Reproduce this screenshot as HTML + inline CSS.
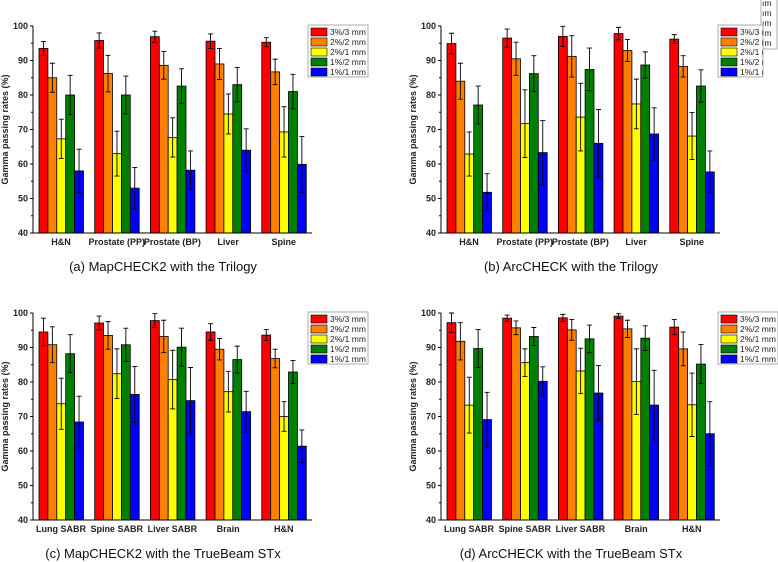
<!DOCTYPE html>
<html><head><meta charset="utf-8"><style>
html,body{margin:0;padding:0;background:#fff;}
svg{display:block;font-family:"Liberation Sans",Arial,sans-serif;}
</style></head><body>
<svg id="fig" width="778" height="562" viewBox="0 0 778 562" xmlns="http://www.w3.org/2000/svg"></svg>
<script>
const seriesNames = ["3%/3 mm","2%/2 mm","2%/1 mm","1%/2 mm","1%/1 mm"];
const seriesColors = ["#ff0000","#ff8000","#ffff00","#008000","#0000ff"];
const yTicks = [40,50,60,70,80,90,100];
const catsTrilogy = ["H&N","Prostate (PP)","Prostate (BP)","Liver","Spine"];
const catsTrueBeam = ["Lung SABR","Spine SABR","Liver SABR","Brain","H&N"];
// panel a
const aMeans = [[93.5,85,67.3,80,58],[95.8,86.2,63,80,53],[96.9,88.6,67.7,82.6,58.2],[95.6,89,74.5,83,64],[95.3,86.7,69.3,81,59.9]];
const aErrs = [[2,4.2,5.7,5.7,6.3],[2.2,5.3,6.5,5.5,6],[1.6,4,5.7,5,5.6],[2.1,4.5,5.8,5,6.2],[1.3,3.7,7.3,5,8.1]];
// panel b
const bMeans = [[94.9,84,62.9,77.1,51.8],[96.5,90.5,71.7,86.2,63.3],[97,91.2,73.6,87.4,66],[97.8,92.9,77.4,88.7,68.7],[96.2,88.3,68.1,82.6,57.7]];
const bErrs = [[3,5.2,6.4,5.5,5.4],[2.6,4.8,9.8,5.2,9.3],[2.9,6,9.8,6.2,9.8],[1.8,3.2,7.2,3.8,7.6],[1.3,3.1,6.8,4.7,6.1]];
// panel c
const cMeans = [[94.5,90.8,73.7,88.2,68.4],[97.1,93.5,82.4,90.8,76.4],[97.8,93.2,80.7,90.1,74.6],[94.5,89.5,77.2,86.5,71.4],[93.6,86.8,70,82.9,61.4]];
const cErrs = [[4,5.2,7.4,5.5,7.5],[2,4,7.2,4.8,8.1],[2,4.7,8.5,5.5,9.6],[2.4,3.1,5.9,3.9,5.9],[1.6,2.7,4.3,3.3,4.7]];
// panel d
const dMeans = [[97.2,91.8,73.3,89.7,69.1],[98.5,95.7,85.6,93.2,80.2],[98.6,95.1,83.2,92.5,76.8],[99.1,95.4,80.1,92.7,73.3],[95.9,89.6,73.4,85.2,65]];
const dErrs = [[2.8,5.4,8.1,5.5,7.9],[0.9,2,4,2.6,4.2],[1,3,6.6,4,8],[0.7,2.5,9.5,3.6,10.1],[2.2,4.9,9.2,5.7,9.3]];

const NS="http://www.w3.org/2000/svg";
const svg=document.getElementById('fig');
function mk(tag,attrs,parent){const e=document.createElementNS(NS,tag);for(const k in attrs)e.setAttribute(k,attrs[k]);(parent||svg).appendChild(e);return e;}

function panel(id,ox,oy,cats,means,errs,caption,lx,ly,legendW,legendH){
  const g=mk('g',{});
  
  
  const L=ox+33,R=ox+312,T=oy+26,B=oy+233;
  const yv=v=>B-(v-40)/60*(B-T);
  const gx=i=>L+6+i*55.7;
  const bw=8.9;
  for(let i=0;i<cats.length;i++){
    for(let s=0;s<5;s++){
      const x=gx(i)+s*bw,v=means[i][s],e=errs[i][s];
      const r=mk('rect',{x:x,y:yv(v),width:bw,height:B-yv(v),fill:seriesColors[s],stroke:'#000','stroke-width':0.8},g);
      
      
      const cx=x+bw/2;
      const eb=mk('path',{d:`M${cx},${yv(v+e)}V${yv(v-e)}M${cx-2.5},${yv(v+e)}H${cx+2.5}M${cx-2.5},${yv(v-e)}H${cx+2.5}`,stroke:'#000','stroke-width':0.9,fill:'none'},g);
      
      
    }
    const t=mk('text',{x:gx(i)+22,y:B+12,'text-anchor':'middle','font-size':9,'font-weight':'bold',fill:'#222'},g);
    t.textContent=cats[i];
    
    
  }
  const ax=mk('path',{d:`M${L},${T}V${B}H${R}`,stroke:'#000','stroke-width':1,fill:'none'},g);
  
  
  yTicks.forEach(v=>{
    mk('line',{x1:L-3,x2:L,y1:yv(v),y2:yv(v),stroke:'#000'},g);
    if(v<100)mk('line',{x1:L-2,x2:L,y1:yv(v+5),y2:yv(v+5),stroke:'#000'},g);
    const t=mk('text',{x:L-5,y:yv(v)+3,'text-anchor':'end','font-size':9,'font-weight':'bold',fill:'#222'},g);
    t.textContent=v;
    
    
  });
  const yt=mk('text',{transform:`translate(${ox+8},${(T+B)/2}) rotate(-90)`,'text-anchor':'middle','font-size':9,'font-weight':'bold',fill:'#222'},g);
  yt.textContent='Gamma passing rates (%)';
  
  
  const cp=mk('text',{x:ox+163,y:oy+271,'text-anchor':'middle','font-size':13,fill:'#111'},g);
  cp.textContent=caption;
  
  
  const lg=mk('g',{},g);
  
  
  const cid='clip'+id;
  const cpth=mk('clipPath',{id:cid},lg);
  mk('rect',{x:lx,y:ly,width:legendW,height:legendH},cpth);
  mk('rect',{x:lx,y:ly,width:legendW,height:legendH,fill:'#fff',stroke:'#999','stroke-width':0.8},lg);
  const inner=mk('g',{'clip-path':`url(#${cid})`},lg);
  seriesNames.forEach((n,s)=>{
    mk('rect',{x:lx+3,y:ly+3+s*10,width:16,height:8,fill:seriesColors[s],stroke:'#000','stroke-width':0.6},inner);
    const t=mk('text',{x:lx+22,y:ly+10+s*10,'font-size':8.5,fill:'#222'},inner);
    t.textContent=n;
    
    
  });
}
// hidden legend behind panel b
const hg=mk('g',{});


mk('rect',{x:761,y:-1,width:16,height:50,fill:'#fff',stroke:'#999','stroke-width':0.8},hg);
[6,16,26,36,46].forEach(y=>{const t=mk('text',{x:762,y:y,'font-size':8.5,fill:'#222'},hg);t.textContent='ım';});

panel('a',0,0,catsTrilogy,aMeans,aErrs,'(a) MapCHECK2 with the Trilogy',308,25,60,52);
panel('b',408,0,catsTrilogy,bMeans,bErrs,'(b) ArcCHECK with the Trilogy',718,25,45,52);
panel('c',0,287,catsTrueBeam,cMeans,cErrs,'(c) MapCHECK2 with the TrueBeam STx',308,312,60,52);
panel('d',408,287,catsTrueBeam,dMeans,dErrs,'(d) ArcCHECK with the TrueBeam STx',718,312,60,52);
</script>
</body></html>
